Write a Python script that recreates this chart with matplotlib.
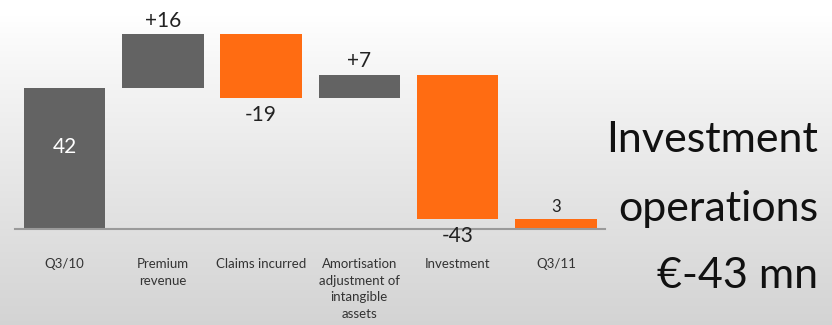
import numpy as np
import matplotlib
matplotlib.use("Agg")
from matplotlib import pyplot as plt

plt.rcParams['font.family'] = ['Lato', 'DejaVu Sans']

# waterfall data, EUR mn
categories = ["Q3/10", "Premium\nrevenue", "Claims incurred",
              "Amortisation\nadjustment of\nintangible\nassets",
              "Investment", "Q3/11"]
start_value = 42
changes = [16, -19, 7, -43]
end_value = 3
change_labels = ["+16", "-19", "+7", "-43"]

grey = "#636363"
orange = "#ff6c12"

W, H = 832, 325
fig = plt.figure(figsize=(W / 100, H / 100), dpi=100)

# soft white-to-grey backdrop
bg = fig.add_axes([0, 0, 1, 1], zorder=-10)
grad = np.linspace(0, 1, 256).reshape(-1, 1)
shade = 1.0 - 0.17 * np.clip((grad - 0.05) / 0.95, 0, 1) ** 0.9
bg.imshow(np.dstack([shade, shade, shade]), aspect="auto", extent=[0, 1, 0, 1],
          origin="upper")
bg.axis("off")

ax = fig.add_axes([15.3 / W, 1 - 229 / H, (605 - 15.3) / W, 229 / H])
ax.patch.set_alpha(0)

x = np.arange(len(categories))
width = 0.83

# bottoms and heights of every bar
bottoms = [0]
heights = [start_value]
colors = [grey]
level = start_value
for c in changes:
    new_level = level + c
    bottoms.append(min(level, new_level))
    heights.append(abs(c))
    colors.append(grey if c > 0 else orange)
    level = new_level
bottoms.append(0)
heights.append(end_value)
colors.append(orange)

ax.bar(x, heights, width, bottom=bottoms, color=colors, zorder=2)

# value labels
ax.text(x[0], start_value * 0.58, str(start_value), ha="center", va="center",
        color="white", fontsize=15)
level = start_value
for i, (c, lab) in enumerate(zip(changes, change_labels), start=1):
    new_level = level + c
    if c > 0:
        ax.text(x[i], new_level + 1.0, lab, ha="center", va="bottom",
                fontsize=15, color="#222222")
    else:
        ax.text(x[i], new_level - 2.2, lab, ha="center", va="top",
                fontsize=15, color="#222222")
    level = new_level
ax.text(x[-1], end_value + 1.3, str(end_value), ha="center", va="bottom",
        fontsize=12, color="#222222")

ax.set_xlim(-0.5, len(categories) - 0.5)
ax.set_ylim(0, 229 / 3.357)
ax.set_xticks(x)
ax.set_xticklabels(categories, fontsize=9.5, color="#333333", linespacing=1.45,
                   va="top")
ax.tick_params(axis="x", length=0, pad=21)
ax.set_yticks([])
for s in ["top", "right", "left"]:
    ax.spines[s].set_visible(False)
ax.spines["bottom"].set_color("#9a9a9a")
ax.spines["bottom"].set_linewidth(1.5)

# headline text on the right
for txt, base in [("Investment", 152), ("operations", 221), ("€-43 mn", 288)]:
    fig.text(818 / W, 1 - base / H, txt, ha="right", va="baseline",
             fontsize=31, color="#111111")

fig.savefig("out.png", dpi=100)
